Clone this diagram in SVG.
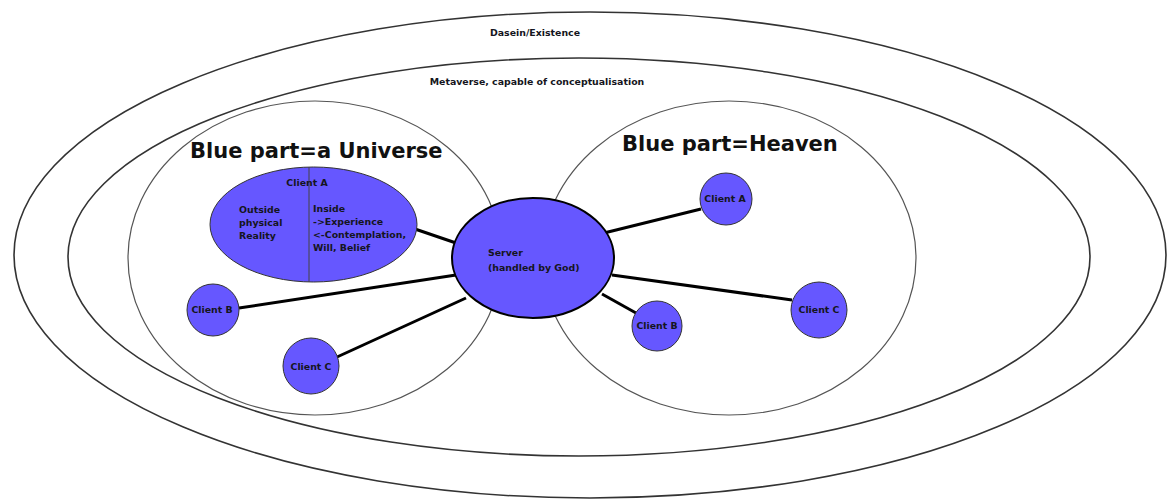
<svg xmlns="http://www.w3.org/2000/svg" width="1175" height="501" viewBox="0 0 1175 501">
<style>
.ring{fill:none;stroke:#333;stroke-width:1.6}
.zone{fill:none;stroke:#555;stroke-width:1.2}
.blue{fill:#6657FF;stroke:#333;stroke-width:1}
.srv{fill:#6657FF;stroke:#000;stroke-width:2}
.con{stroke:#000;stroke-width:3;fill:none}
.t{font-family:"DejaVu Sans",Verdana,sans-serif;font-weight:bold;font-size:9.4px;fill:#151520}
.title{font-family:"DejaVu Sans",Verdana,sans-serif;font-weight:bold;font-size:21px;fill:#111}
.c{text-anchor:middle}
</style>
<rect width="1175" height="501" fill="#fff"/>
<g id="dasein">
<ellipse class="ring" cx="590" cy="255" rx="576" ry="243"/>
<text class="t c" x="535" y="36">Dasein/Existence</text>
</g>
<g id="metaverse">
<ellipse class="ring" cx="579" cy="257" rx="511" ry="199"/>
<text class="t c" x="537" y="85">Metaverse, capable of conceptualisation</text>
</g>
<g id="universe">
<ellipse class="zone" cx="315" cy="258" rx="187" ry="157"/>
<text class="title" x="190" y="158">Blue part=a Universe</text>
</g>
<g id="heaven">
<ellipse class="zone" cx="729" cy="258" rx="187" ry="157"/>
<text class="title" x="622" y="151">Blue part=Heaven</text>
</g>
<g id="connectors">
<line class="con" x1="415" y1="229" x2="456" y2="243"/>
<line class="con" x1="239" y1="308" x2="456" y2="275"/>
<line class="con" x1="337" y1="357" x2="466" y2="298"/>
<line class="con" x1="701" y1="209" x2="604" y2="233"/>
<line class="con" x1="636" y1="313" x2="602" y2="294"/>
<line class="con" x1="612" y1="275" x2="792" y2="300"/>
</g>
<g id="clientA-universe">
<ellipse class="blue" cx="313.5" cy="224.5" rx="103.5" ry="57.5"/>
<line x1="309" y1="167" x2="309" y2="282" stroke="#444" stroke-width="1"/>
<text class="t c" x="307" y="186">Client A</text>
<text class="t" x="239" y="213">Outside</text>
<text class="t" x="239" y="226">physical</text>
<text class="t" x="239" y="239">Reality</text>
<text class="t" x="313" y="212">Inside</text>
<text class="t" x="313" y="225">-&gt;Experience</text>
<text class="t" x="313" y="238">&lt;-Contemplation,</text>
<text class="t" x="313" y="251">Will, Belief</text>
</g>
<g id="server">
<ellipse class="srv" cx="533" cy="258" rx="81" ry="60"/>
<text class="t" x="488" y="256">Server</text>
<text class="t" x="488" y="271">(handled by God)</text>
</g>
<g id="clientB-universe">
<circle class="blue" cx="213" cy="310" r="26"/>
<text class="t c" x="212" y="313">Client B</text>
</g>
<g id="clientC-universe">
<circle class="blue" cx="311" cy="366" r="28"/>
<text class="t c" x="311" y="370">Client C</text>
</g>
<g id="clientA-heaven">
<circle class="blue" cx="726" cy="199" r="26"/>
<text class="t c" x="725" y="202">Client A</text>
</g>
<g id="clientB-heaven">
<circle class="blue" cx="657" cy="326" r="25"/>
<text class="t c" x="657" y="329">Client B</text>
</g>
<g id="clientC-heaven">
<circle class="blue" cx="819" cy="310" r="28"/>
<text class="t c" x="819" y="313">Client C</text>
</g>
</svg>
